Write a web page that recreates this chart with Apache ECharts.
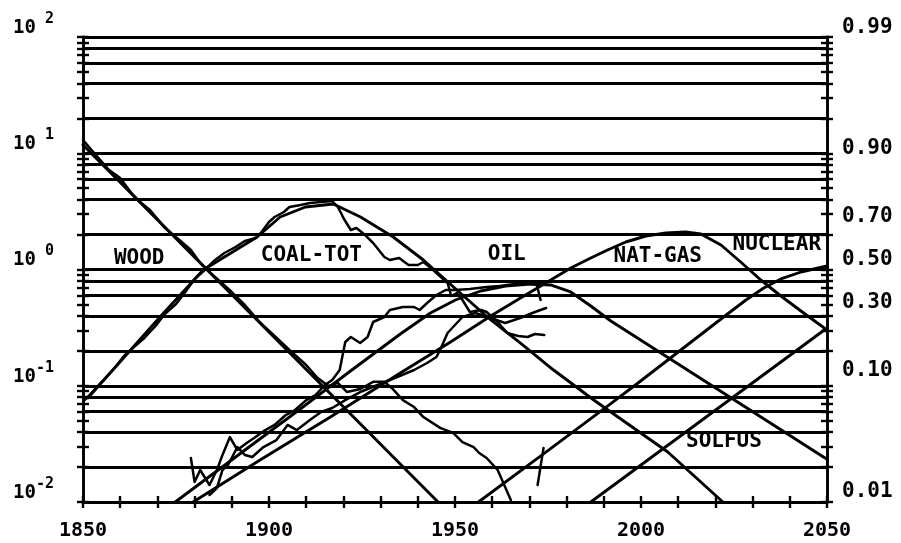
<!DOCTYPE html>
<html>
<head>
<meta charset="utf-8">
<script src="https://cdn.jsdelivr.net/npm/echarts@6/dist/echarts.min.js"></script>
<style>
  html, body { margin: 0; padding: 0; background: #fff; }
  #chart { width: 901px; height: 543px; }
</style>
</head>
<body>
<div id="chart"></div>
<script>
// Primary energy market shares, plotted as F/(1-F) on a log scale.
// Each point is [year, F/(1-F)].

const woodFit = [[1850, 11.8], [1945.3, 0.0101]];

const woodData = [
  [1850, 13.0], [1853, 10.05], [1857, 7.18], [1860, 6.12], [1863, 4.55], [1865, 3.88],
  [1868, 3.25], [1872, 2.28], [1876, 1.79], [1879, 1.47], [1881.5, 1.14], [1884, 0.95],
  [1887, 0.78], [1890, 0.64], [1893.5, 0.495], [1897.5, 0.353], [1901.5, 0.268],
  [1905.5, 0.203], [1910, 0.151], [1913, 0.117], [1916, 0.0995], [1918.5, 0.106],
  [1921, 0.0883], [1924.5, 0.0938], [1928, 0.108], [1931, 0.108], [1933, 0.0957],
  [1936, 0.0753], [1939, 0.0656], [1941.5, 0.0538], [1946, 0.0434], [1949.5, 0.0393],
  [1952, 0.0328], [1955, 0.0297], [1956.5, 0.0264], [1958.5, 0.0239], [1961.5, 0.0188],
  [1963, 0.0146], [1965, 0.0104]
];

const coalFit = [
  [1851.3, 0.0785], [1870.7, 0.390], [1882.3, 0.990], [1896.8, 1.904], [1903.0, 2.829],
  [1909.8, 3.449], [1917.3, 3.660], [1924.6, 2.829], [1933.4, 1.904], [1941.5, 1.207],
  [1949.6, 0.707], [1958.7, 0.390], [1967.6, 0.233], [1976.5, 0.1366], [1987.3, 0.0754],
  [2007.2, 0.0269], [2022.0, 0.0100]
];

const coalData = [
  [1850.5, 0.0754], [1853, 0.0919], [1856, 0.1166], [1858.5, 0.1421], [1861, 0.1803],
  [1864, 0.2197], [1866.5, 0.2575], [1869.5, 0.3266], [1872, 0.4143], [1875, 0.5049],
  [1877.5, 0.6405], [1880, 0.8286], [1883, 1.01], [1885.5, 1.207], [1888, 1.387],
  [1891, 1.561], [1893.5, 1.759], [1896.5, 1.866], [1898, 2.102], [1900, 2.563],
  [1901.5, 2.829], [1904, 3.123], [1905.5, 3.449], [1908.5, 3.588], [1911, 3.733],
  [1914, 3.808], [1917, 3.884], [1918.5, 3.449], [1919.5, 3.002], [1920, 2.773],
  [1922, 2.187], [1923.5, 2.275], [1925.5, 2.021], [1928, 1.690], [1931, 1.281],
  [1932.5, 1.207], [1935, 1.256], [1937.5, 1.093], [1940, 1.093], [1941.5, 1.160],
  [1943.5, 1.030], [1945, 0.933], [1948, 0.7652], [1949, 0.5916], [1950.5, 0.6279],
  [1952, 0.5465], [1954, 0.4310], [1957, 0.4484], [1958.5, 0.4310], [1961.5, 0.3535],
  [1964, 0.2843], [1967, 0.2679], [1969.5, 0.2626], [1971.5, 0.2787], [1974, 0.2732]
];

const oilFit = [
  [1874.8, 0.0100], [1895.0, 0.0303], [1908.4, 0.0631], [1921.9, 0.1339], [1935.3, 0.2787],
  [1943.4, 0.4223], [1950.1, 0.5465], [1956.9, 0.6533], [1963.6, 0.7212], [1970.3, 0.7504],
  [1975.7, 0.7358], [1981.1, 0.6405], [1986.5, 0.4853], [1991.9, 0.3606], [2050, 0.0233]
];

const oilData = [
  [1879, 0.0239], [1880, 0.01486], [1881.5, 0.01885], [1884, 0.0140], [1886, 0.01885],
  [1887.5, 0.0254], [1889.5, 0.0362], [1891.5, 0.0280], [1894, 0.0322], [1896, 0.0355],
  [1899, 0.0416], [1901.5, 0.0460], [1904.5, 0.0560], [1907, 0.0618], [1910, 0.0753],
  [1912.5, 0.0832], [1915, 0.1015], [1917, 0.1121], [1919, 0.1366], [1920.5, 0.2378],
  [1922, 0.2626], [1924.5, 0.2332], [1926.5, 0.2626], [1928, 0.3535], [1931, 0.3903],
  [1932.5, 0.4484], [1936, 0.4758], [1939, 0.4758], [1940.5, 0.4484], [1942.5, 0.5149],
  [1945, 0.6034], [1947.5, 0.6664], [1950, 0.6664], [1954, 0.6796], [1958.5, 0.707],
  [1962, 0.7212], [1966, 0.7504], [1970, 0.7652], [1972, 0.7358], [1973, 0.5465]
];

const gasFit = [
  [1879.6, 0.0100], [1897.6, 0.02297], [1916.5, 0.0539], [1935.3, 0.1287], [1948.8, 0.2378],
  [1959.6, 0.3981], [1967.6, 0.5685], [1974.4, 0.7652], [1981.1, 1.030], [1986.5, 1.256],
  [1991.0, 1.472], [1995.9, 1.724], [2001.3, 1.942], [2006.7, 2.061], [2012.0, 2.102],
  [2016.1, 2.021], [2021.5, 1.625], [2026.8, 1.160], [2032.2, 0.8123], [2037.6, 0.5916],
  [2043.0, 0.4395], [2050, 0.3018]
];

const gasData = [
  [1884, 0.01148], [1886, 0.0132], [1887.5, 0.01885], [1889, 0.0208], [1891.5, 0.0297],
  [1893.5, 0.0254], [1895.5, 0.0244], [1898.5, 0.0297], [1902, 0.0341], [1905, 0.046],
  [1907.5, 0.0416], [1911, 0.0507], [1914, 0.0594], [1917, 0.0643], [1920.5, 0.0753],
  [1924.5, 0.0883], [1928.5, 0.0995], [1932.5, 0.1121], [1939, 0.1366], [1942.5, 0.157],
  [1945, 0.1767], [1946, 0.203], [1948, 0.2843], [1952, 0.3903], [1955.5, 0.4223],
  [1959.5, 0.3826], [1963.5, 0.3466], [1967.5, 0.3826], [1971.5, 0.431], [1974.5, 0.4666]
];

const nuclearFit = [
  [1956.3, 0.0100], [1973.8, 0.0259], [1991.0, 0.0669], [1999.9, 0.1099], [2010.7, 0.2030],
  [2021.5, 0.3752], [2028.2, 0.5465], [2033.0, 0.6934], [2037.6, 0.8286], [2043.0, 0.9517],
  [2050, 1.072]
];

const nuclearData = [[1972.2, 0.0140], [1973.8, 0.0292]];

const solfusFit = [[1986.5, 0.0100], [2050, 0.3139]];

// Series names and where each name is written, in [year, F/(1-F)]
const seriesTags = [
  ['WOOD', 1865.1, 1.243],
  ['COAL-TOT', 1911.4, 1.306],
  ['OIL', 1963.9, 1.332],
  ['NAT-GAS', 2004.5, 1.281],
  ['NUCLEAR', 2036.5, 1.625],
  ['SOLFUS', 2022.3, 0.0328]
];

// Axis values
const yearLabels = [1850, 1900, 1950, 2000, 2050];
const shareTicks = [0.01, 0.10, 0.30, 0.50, 0.70, 0.90, 0.99];
const gridMantissas = [1, 2, 4, 6, 8];
const tickMantissas = [1, 2, 3, 4, 5, 6, 7, 8, 9];
const decades = [-2, -1, 0, 1];

const gridValues = [];
decades.forEach(d => gridMantissas.forEach(m => gridValues.push(m * Math.pow(10, d))));
gridValues.push(100);
const tickLogs = [];
decades.forEach(d => tickMantissas.forEach(m => tickLogs.push(Math.log10(m * Math.pow(10, d)))));
tickLogs.push(2);
const shareLogs = shareTicks.map(f => Math.log10(f / (1 - f)));

const FONT = '"DejaVu Sans Mono", monospace';
const INK = '#000';
const LW = 2.9;
const DW = 2.5;

const chart = echarts.init(document.getElementById('chart'), null, { renderer: 'canvas' });

function curve(name, data, width) {
  return {
    name, type: 'line', data, xAxisIndex: 0, yAxisIndex: 0,
    showSymbol: false, symbol: 'none', smooth: false, z: 5,
    lineStyle: { color: INK, width: width || LW, join: 'round', cap: 'round' },
    animation: false, silent: true
  };
}

const tickStyle = { color: INK, width: 2.4 };

chart.setOption({
  backgroundColor: '#fff',
  animation: false,
  grid: { left: 83, right: 74, top: 37, bottom: 41, containLabel: false },
  xAxis: [
    {
      type: 'value', min: 1850, max: 2050, interval: 50,
      axisLine: { show: true, onZero: false, lineStyle: { color: INK, width: LW } },
      axisTick: { show: false },
      splitLine: { show: false },
      axisLabel: {
        color: INK, fontFamily: FONT, fontWeight: 'bold', fontSize: 20, margin: 19,
        formatter: v => (yearLabels.indexOf(v) >= 0 ? String(v) : '')
      }
    },
    {
      type: 'value', min: 1850, max: 2050, interval: 10, position: 'bottom', offset: 6,
      axisLine: { show: false, onZero: false },
      axisTick: { show: true, inside: true, length: 12, lineStyle: tickStyle },
      axisLabel: { show: false },
      splitLine: { show: false }
    }
  ],
  yAxis: [
    {
      type: 'log', logBase: 10, min: 0.01, max: 100, position: 'left',
      axisLine: { show: true, onZero: false, lineStyle: { color: INK, width: LW } },
      axisTick: { show: false },
      splitLine: { show: false },
      minorTick: { show: false },
      axisLabel: {
        margin: 29, color: INK, padding: [0, 0, 18, 0],
        formatter: v => {
          const e = Math.round(Math.log10(v));
          return '{b|10}{s|' + (e >= 0 ? ' ' + e : String(e)) + '}';
        },
        rich: {
          b: { fontFamily: FONT, fontWeight: 'bold', fontSize: 19, color: INK },
          s: { fontFamily: FONT, fontWeight: 'bold', fontSize: 15, color: INK, padding: [0, 0, 18, 0] }
        }
      }
    },
    {
      type: 'value', min: -2, max: 2, position: 'left', offset: 6,
      axisLine: { show: false, onZero: false },
      axisTick: { show: true, inside: true, length: 12, lineStyle: tickStyle, customValues: tickLogs },
      axisLabel: { show: false },
      splitLine: { show: false }
    },
    {
      type: 'value', min: -2, max: 2, position: 'right',
      axisLine: { show: true, onZero: false, lineStyle: { color: INK, width: LW } },
      axisTick: { show: false },
      splitLine: { show: false },
      axisLabel: {
        customValues: shareLogs, margin: 15, color: INK,
        formatter: v => {
          const r = Math.pow(10, v);
          return '{v|' + (r / (1 + r)).toFixed(2) + '}';
        },
        rich: {
          v: { fontFamily: FONT, fontWeight: 'bold', fontSize: 21, color: INK, padding: [0, 0, 20, 0] }
        }
      }
    },
    {
      type: 'value', min: -2, max: 2, position: 'right', offset: 6,
      axisLine: { show: false, onZero: false },
      axisTick: { show: true, inside: true, length: 12, lineStyle: tickStyle, customValues: tickLogs },
      axisLabel: { show: false },
      splitLine: { show: false }
    }
  ],
  series: [
    {
      name: 'grid', type: 'line', data: [], xAxisIndex: 0, yAxisIndex: 0, silent: true, z: 2,
      markLine: {
        silent: true, symbol: ['none', 'none'], animation: false,
        label: { show: false },
        lineStyle: { color: INK, width: LW, type: 'solid' },
        data: gridValues.map(v => ({ yAxis: v }))
      }
    },
    curve('WOOD', woodFit),
    curve('WOOD data', woodData, DW),
    curve('COAL-TOT', coalFit),
    curve('COAL-TOT data', coalData, DW),
    curve('OIL', oilFit),
    curve('OIL data', oilData, DW),
    curve('NAT-GAS', gasFit),
    curve('NAT-GAS data', gasData, DW),
    curve('NUCLEAR', nuclearFit),
    curve('NUCLEAR data', nuclearData, DW),
    curve('SOLFUS', solfusFit)
  ]
});

// Series names, placed through the axes
const graphics = seriesTags.map(([text, yr, val]) => {
  const p = chart.convertToPixel({ xAxisIndex: 0, yAxisIndex: 0 }, [yr, val]);
  return {
    type: 'text', x: p[0], y: p[1], z: 10, silent: true,
    style: {
      text, fill: INK, font: 'bold 21px ' + FONT,
      align: 'center', verticalAlign: 'middle', textAlign: 'center', textVerticalAlign: 'middle'
    }
  };
});
chart.setOption({ graphic: graphics });
</script>
</body>
</html>
